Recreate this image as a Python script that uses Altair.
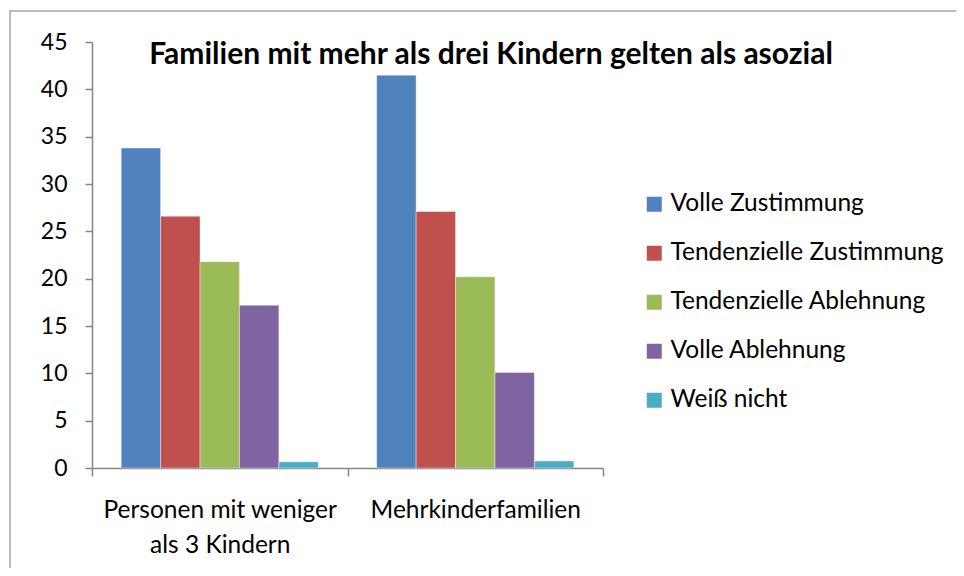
import altair as alt
import pandas as pd

groups = ["Personen mit weniger als 3 Kindern", "Mehrkinderfamilien"]
series = ["Volle Zustimmung", "Tendenzielle Zustimmung", "Tendenzielle Ablehnung",
          "Volle Ablehnung", "Weiß nicht"]
values_group1 = [33.8, 26.6, 21.8, 17.2, 0.65]
values_group2 = [41.5, 27.1, 20.2, 10.1, 0.75]
colors = ["#4F81BD", "#C0504D", "#9BBB59", "#8064A2", "#4BACC6"]
y_ticks = [0, 5, 10, 15, 20, 25, 30, 35, 40, 45]
title_text = "Familien mit mehr als drei Kindern gelten als asozial"

rows = []
for s, v in zip(series, values_group1):
    rows.append({"Gruppe": groups[0], "Antwort": s, "Wert": v})
for s, v in zip(series, values_group2):
    rows.append({"Gruppe": groups[1], "Antwort": s, "Wert": v})
df = pd.DataFrame(rows)

FONT = "Lato"
W, H = 511, 426

label_expr = ("datum.value == 'Personen mit weniger als 3 Kindern' ? "
              "['Personen mit weniger', 'als 3 Kindern'] : datum.label")

bars = alt.Chart(df).mark_bar(stroke="white", strokeWidth=0.6, strokeOpacity=0.7).encode(
    x=alt.X("Gruppe:N", sort=groups, title=None,
            scale=alt.Scale(paddingInner=0, paddingOuter=0),
            axis=alt.Axis(labelAngle=0, labelExpr=label_expr, labelFont=FONT,
                          labelFontSize=24.5, labelColor="#000000", labelLineHeight=35,
                          labelPadding=22, tickBand="extent", tickSize=8,
                          tickColor="#868686", domainColor="#868686", labelLimit=600,
                          tickWidth=1.5, domainWidth=1.5, labelBaseline="top")),
    xOffset=alt.XOffset("Antwort:N", sort=series,
                        scale=alt.Scale(paddingInner=0, paddingOuter=0.74)),
    y=alt.Y("Wert:Q", title=None,
            scale=alt.Scale(domain=[0, 45], nice=False),
            axis=alt.Axis(values=y_ticks, grid=False, labelFont=FONT, labelFontSize=23,
                          labelColor="#000000", labelPadding=18, tickSize=7,
                          tickColor="#868686", domainColor="#868686",
                          tickWidth=1.5, domainWidth=1.5)),
    color=alt.Color("Antwort:N", sort=series,
                    scale=alt.Scale(domain=series, range=colors),
                    legend=alt.Legend(title=None, orient="none", legendX=550, legendY=150,
                                      symbolType="square", symbolSize=225,
                                      symbolStrokeWidth=0, labelFont=FONT,
                                      labelFontSize=24.5, labelColor="#000000",
                                      rowPadding=24, labelOffset=4,
                                      labelLimit=400)),
)

title = alt.Chart(pd.DataFrame({"t": [title_text]})).mark_text(
    font=FONT, fontSize=30, fontWeight="bold", color="#000000",
    align="center", baseline="middle"
).encode(text="t:N", x=alt.value(399), y=alt.value(13))

frame = alt.Chart(pd.DataFrame({"f": [0]})).mark_rect(
    fill="transparent", stroke="#a6a6a6", strokeWidth=1.5, clip=False
).encode(x=alt.value(-82), x2=alt.value(1000), y=alt.value(-31), y2=alt.value(600))

chart = alt.layer(frame, bars, title).properties(
    width=W, height=H,
    background="white",
    autosize=alt.AutoSizeParams(type="none"),
    padding={"left": 84, "top": 34, "right": 353, "bottom": 100},
).configure_view(stroke=None)

chart.save("out.html", embed_options={"renderer": "svg", "actions": False})
